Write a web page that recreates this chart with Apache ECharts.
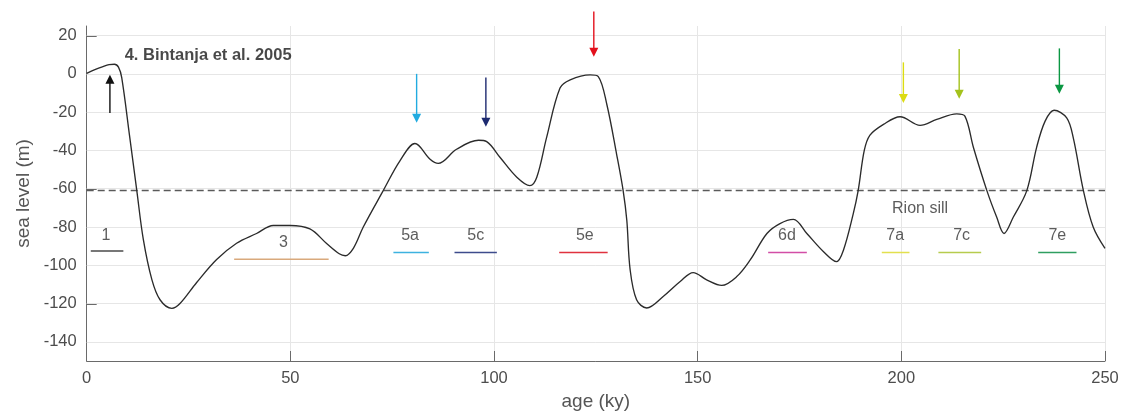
<!DOCTYPE html>
<html>
<head>
<meta charset="utf-8">
<script src="https://cdn.jsdelivr.net/npm/echarts@6/dist/echarts.min.js"></script>
<style>html,body{margin:0;padding:0;background:#fff;}#c{width:1125px;height:416px;}</style>
</head>
<body>
<div id="c"></div>
<script>
// ---- data ----
var curveAge = [0,2,4,5.5,6.8,7.8,8.6,10.5,12.3,13.9,16,18,20.9,22.9,27,31.9,36.8,41.7,45.8,49.9,54.8,58.9,62,63.5,65.5,67.9,72.8,76.9,80.6,84.3,86.3,90.8,96.2,98.2,101.5,105.6,108.8,110.5,112.9,116.2,118.7,123.6,125.6,127.7,130.1,131.7,132.6,133.4,135,137.5,141.6,145.7,148.9,152.2,155.9,159.6,162.9,167,170.2,173.5,176.8,180.9,184.1,185.8,188.2,189.4,190.9,192.3,195.6,199.7,204.6,208.7,213.6,215.6,217.7,221,223.4,225.2,227.5,230.8,233.2,235.3,237.5,240.6,242.2,244.7,247.1,250];
var curveSea = [0.3,2.2,3.8,4.8,5.0,3.5,-2,-32,-61,-86.5,-107.5,-118,-122.5,-120,-109,-97,-88.5,-83.4,-79.2,-79.2,-81,-88.6,-94,-95,-91,-80,-61,-45.4,-36.4,-44.6,-46.8,-39.4,-34.7,-35.4,-43.7,-54,-58.4,-54,-33.3,-7.4,-3.1,-0.5,-1.4,-16,-42,-61,-76.5,-102,-118,-122.3,-116.2,-108.5,-103.8,-107.6,-110.5,-105.9,-97.2,-83.4,-78.2,-76,-83.4,-92.9,-98.1,-92,-73,-61,-40,-32,-26.4,-22.4,-26.9,-23.8,-20.9,-22.1,-38.5,-61,-74.8,-83.4,-74.8,-61,-38.5,-24.7,-19,-23,-33.3,-61,-80,-91.2];
var sillLevel = -61;
var yTicks = [20,0,-20,-40,-60,-80,-100,-120,-140];

var stageNames = ['1','3','5a','5c','5e','6d','7a','7c','7e'];
var stageStart = [1,36.2,75.3,90.3,116,167.3,195.2,209.1,233.6];
var stageEnd   = [9,59.4,84,100.7,127.9,176.8,202,219.6,243];
var stageSea   = [-92.6,-96.9,-93.3,-93.3,-93.3,-93.3,-93.3,-93.3,-93.3];
var stageLabelAge = [4.7,48.3,79.4,95.5,122.3,171.9,198.5,214.8,238.3];
var stageLabelSea = [-84.3,-88,-84.3,-84.3,-84.3,-84.3,-84.3,-84.3,-84.3];

var arrowAge  = [5.7,81,98,124.5,200.5,214.2,238.8];
var arrowFrom = [-20.4,0,-1.9,32.6,6,13,13.3];
var arrowTo   = [-0.5,-25.5,-27.6,9,-15.2,-13,-10.4];

var titleText = '4. Bintanja et al. 2005';
var titlePos = [9.2, 9.5];
var sillText = 'Rion sill';
var sillTextPos = [204.6, -70.2];

// ---- styles ----
var stageColors = ['#4a4a4a','#d9a97c','#3db2e0','#3d4b8c','#e0323f','#d24ea6','#e2e04e','#b6cc4e','#2f9e60'];
var arrowColors = ['#111111','#22abe0','#1d2a70','#e3101c','#dcdc12','#a4c21c','#0b9742'];
var FONT = '"Liberation Sans", Arial, Helvetica, sans-serif';

var series = [];
// y grid lines
series.push({
  type:'line', data:[], z:1, silent:true,
  markLine:{silent:true, symbol:['none','none'], label:{show:false},
    lineStyle:{color:'#e6e6e6', type:'solid', width:1},
    data: yTicks.map(function(v){return {yAxis:v};})
  }
});
// y axis inward ticks
series.push({
  type:'custom', z:3, silent:true, clip:false,
  data: yTicks.map(function(v){return [0, v];}),
  renderItem:function(params, api){
    var p = api.coord([api.value(0), api.value(1)]);
    var y = Math.round(p[1]) + 0.5;
    return {type:'line', shape:{x1:p[0], y1:y, x2:p[0]+10, y2:y}, style:{stroke:'#6a6a6a', lineWidth:1}};
  }
});
// main curve
series.push({
  type:'line', z:5, showSymbol:false, smooth:0.35,
  data: curveAge.map(function(a,i){return [a, curveSea[i]];}),
  lineStyle:{color:'#2b2b2b', width:1.35},
  markLine:{silent:true, symbol:['none','none'], label:{show:false},
    lineStyle:{color:'#5a5a5a', type:[7,4], width:1.3},
    data:[{yAxis:sillLevel}]
  }
});
// stage bars
stageNames.forEach(function(n,i){
  series.push({type:'line', z:4, showSymbol:false, silent:true,
    data:[[stageStart[i],stageSea[i]],[stageEnd[i],stageSea[i]]],
    lineStyle:{color:stageColors[i], width:1.5}});
});
// arrows (custom series, not clipped)
series.push({
  type:'custom', z:6, silent:true, clip:false,
  data: arrowAge.map(function(a,i){return [a, arrowFrom[i], arrowTo[i]];}),
  renderItem:function(params, api){
    var p0 = api.coord([api.value(0), api.value(1)]);
    var p1 = api.coord([api.value(0), api.value(2)]);
    var col = arrowColors[params.dataIndex];
    var dir = p1[1] > p0[1] ? 1 : -1;
    var hl = 9, hw = 4.5;
    return {type:'group', children:[
      {type:'line', shape:{x1:p0[0], y1:p0[1], x2:p1[0], y2:p1[1]-dir*hl*0.6}, style:{stroke:col, lineWidth:1.4}},
      {type:'polygon', shape:{points:[[p1[0],p1[1]],[p1[0]-hw,p1[1]-dir*hl],[p1[0]+hw,p1[1]-dir*hl]]}, style:{fill:col}}
    ]};
  }
});
// stage labels
series.push({
  type:'scatter', z:7, silent:true, symbolSize:1, itemStyle:{color:'rgba(0,0,0,0)'},
  data: stageNames.map(function(n,i){return {name:n, value:[stageLabelAge[i], stageLabelSea[i]]};}),
  label:{show:true, position:'inside', formatter:'{b}', color:'#333', fontSize:16, fontFamily:FONT}
});
series.push({
  type:'scatter', z:7, silent:true, symbolSize:1, itemStyle:{color:'rgba(0,0,0,0)'},
  data:[{name:sillText, value:sillTextPos}],
  label:{show:true, position:'inside', formatter:'{b}', color:'#333', fontSize:16, fontFamily:FONT}
});
series.push({
  type:'scatter', z:7, silent:true, symbolSize:1, itemStyle:{color:'rgba(0,0,0,0)'},
  data:[{name:titleText, value:titlePos}],
  label:{show:true, position:'right', distance:0, formatter:'{b}', color:'#1a1a1a', fontSize:16.5, fontWeight:'bold', fontFamily:FONT}
});

var chart = echarts.init(document.getElementById('c'));
chart.setOption({
  animation:false,
  backgroundColor:'#fff',
  grid:{left:86.7, right:20, top:26, bottom:53.7},
  xAxis:{
    type:'value', min:0, max:250, interval:50,
    name:'age (ky)', nameLocation:'middle', nameGap:31,
    nameTextStyle:{fontSize:19, color:'#555', fontFamily:FONT},
    axisLine:{show:true, onZero:false, lineStyle:{color:'#6a6a6a', width:1}},
    axisTick:{show:true, inside:true, length:10, lineStyle:{color:'#6a6a6a'}},
    axisLabel:{fontSize:16.5, color:'#4d4d4d', margin:9, fontFamily:FONT},
    splitLine:{show:true, lineStyle:{color:'#e6e6e6', width:1}}
  },
  yAxis:{
    type:'value', min:-150, max:25,
    name:'sea level (m)', nameLocation:'middle', nameGap:52,
    nameTextStyle:{fontSize:19, color:'#555', fontFamily:FONT},
    axisLine:{show:true, onZero:false, lineStyle:{color:'#6a6a6a', width:1}},
    axisTick:{show:false},
    axisLabel:{fontSize:16.5, color:'#4d4d4d', margin:10, fontFamily:FONT, customValues:yTicks},
    splitLine:{show:false}
  },
  series:series
});
</script>
</body>
</html>
